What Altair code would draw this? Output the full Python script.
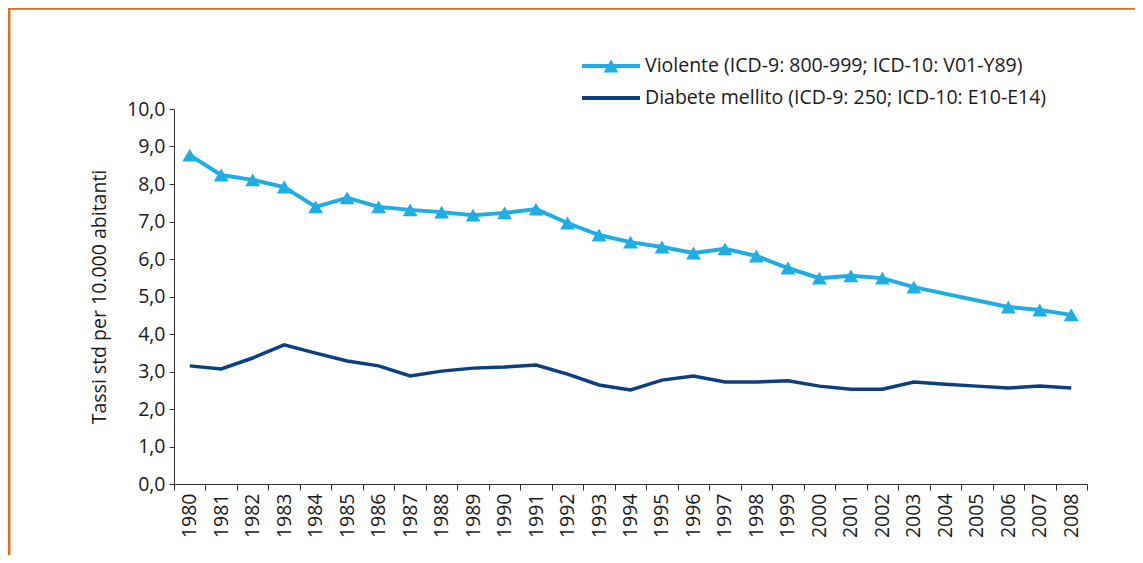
import altair as alt
import pandas as pd

# ---- data ----
years = list(range(1980, 2009))
violente_years = [y for y in years if y not in (2004, 2005)]
violente = [8.77, 8.24, 8.11, 7.92, 7.39, 7.63, 7.39, 7.31, 7.25, 7.17,
            7.23, 7.33, 6.96, 6.64, 6.45, 6.32, 6.16, 6.27, 6.08, 5.76,
            5.49, 5.55, 5.49, 5.25, 4.72, 4.64, 4.51]
diabete = [3.15, 3.07, 3.36, 3.71, 3.49, 3.28, 3.15, 2.88, 3.01, 3.09,
           3.12, 3.17, 2.93, 2.64, 2.51, 2.77, 2.88, 2.72, 2.72, 2.75,
           2.61, 2.53, 2.53, 2.72, 2.66, 2.61, 2.56, 2.61, 2.56]
legend_labels = ["Violente (ICD-9: 800-999; ICD-10: V01-Y89)",
                 "Diabete mellito (ICD-9: 250; ICD-10: E10-E14)"]
y_title = "Tassi std per 10.000 abitanti"
y_ticks = list(range(0, 11))

LIGHT = "#1fade6"
DARK = "#0a3f82"
ORANGE = "#e0700f"
FONT = "Open Sans"
TXT = "#1a1a1a"
FS = 19.5

W, H = 913, 375
PAD = {"left": 166, "top": 101, "right": 48, "bottom": 71}
band = W / len(years)

df_v = pd.DataFrame({"year": violente_years, "value": violente})
df_d = pd.DataFrame({"year": years, "value": diabete})

x_enc = alt.X(
    "year:Q",
    scale=alt.Scale(domain=[years[0] - 0.5, years[-1] + 0.5], nice=False, zero=False),
    axis=alt.Axis(
        values=[y - 0.5 for y in years] + [years[-1] + 0.5],
        labelExpr=f"datum.value > {years[-1]} ? '' : format(datum.value + 0.5, 'd')",
        labelOffset=band / 2,
        labelAngle=270,
        labelOverlap=False,
        labelFlush=False,
        labelFont=FONT,
        labelFontSize=FS,
        labelColor=TXT,
        labelPadding=3,
        tickSize=6,
        tickColor="#333333",
        domainColor="#333333",
        grid=False,
        title=None,
    ),
)
y_enc = alt.Y(
    "value:Q",
    scale=alt.Scale(domain=[0, 10], nice=False),
    axis=alt.Axis(
        values=y_ticks,
        labelExpr="replace(format(datum.value, '.1f'), '.', ',')",
        labelFont=FONT,
        labelFontSize=FS,
        labelColor=TXT,
        labelPadding=4,
        tickSize=5,
        tickColor="#333333",
        domainColor="#333333",
        grid=False,
        title=y_title,
        titleFont=FONT,
        titleFontSize=FS,
        titleFontWeight="normal",
        titleColor=TXT,
        titlePadding=17,
    ),
)

line_d = alt.Chart(df_d).mark_line(color=DARK, strokeWidth=3.5).encode(x=x_enc, y=y_enc)
line_v = alt.Chart(df_v).mark_line(color=LIGHT, strokeWidth=4).encode(x=x_enc, y=y_enc)
pts_v = alt.Chart(df_v).mark_point(shape="triangle-up", filled=True, size=220,
                                   color=LIGHT, opacity=1).encode(x=x_enc, y=y_enc)

# ---- manual legend ----
one = pd.DataFrame({"k": [0]})
leg = []
rows_y = [-43, -11]
for i, lab in enumerate(legend_labels):
    col = LIGHT if i == 0 else DARK
    leg.append(alt.Chart(one).mark_rule(color=col, strokeWidth=4).encode(
        x=alt.value(408), x2=alt.value(466), y=alt.value(rows_y[i])))
    leg.append(alt.Chart(pd.DataFrame({"label": [lab]})).mark_text(
        align="left", baseline="middle", font=FONT, fontSize=FS, color=TXT).encode(
        x=alt.value(471), y=alt.value(rows_y[i]), text="label:N"))
leg.append(alt.Chart(one).mark_point(shape="triangle-up", filled=True, size=220,
                                     color=LIGHT, opacity=1).encode(
    x=alt.value(437), y=alt.value(rows_y[0])))

# ---- orange frame ----
frame_top = alt.Chart(one).mark_rule(color=ORANGE, strokeWidth=2.5).encode(
    x=alt.value(-PAD["left"]), x2=alt.value(W + PAD["right"] + 20), y=alt.value(-PAD["top"] + 0.5))
frame_left = alt.Chart(one).mark_rule(color=ORANGE, strokeWidth=2.5).encode(
    x=alt.value(-PAD["left"] + 1.2), y=alt.value(-PAD["top"]), y2=alt.value(H + PAD["bottom"] + 20))

chart = alt.layer(line_d, line_v, pts_v, *leg, frame_top, frame_left).properties(
    width=W, height=H,
    autosize=alt.AutoSizeParams(type="none"),
    padding=PAD,
    background="white",
).configure_view(stroke=None)

chart.save("out.html", embed_options={"renderer": "svg", "actions": False})
